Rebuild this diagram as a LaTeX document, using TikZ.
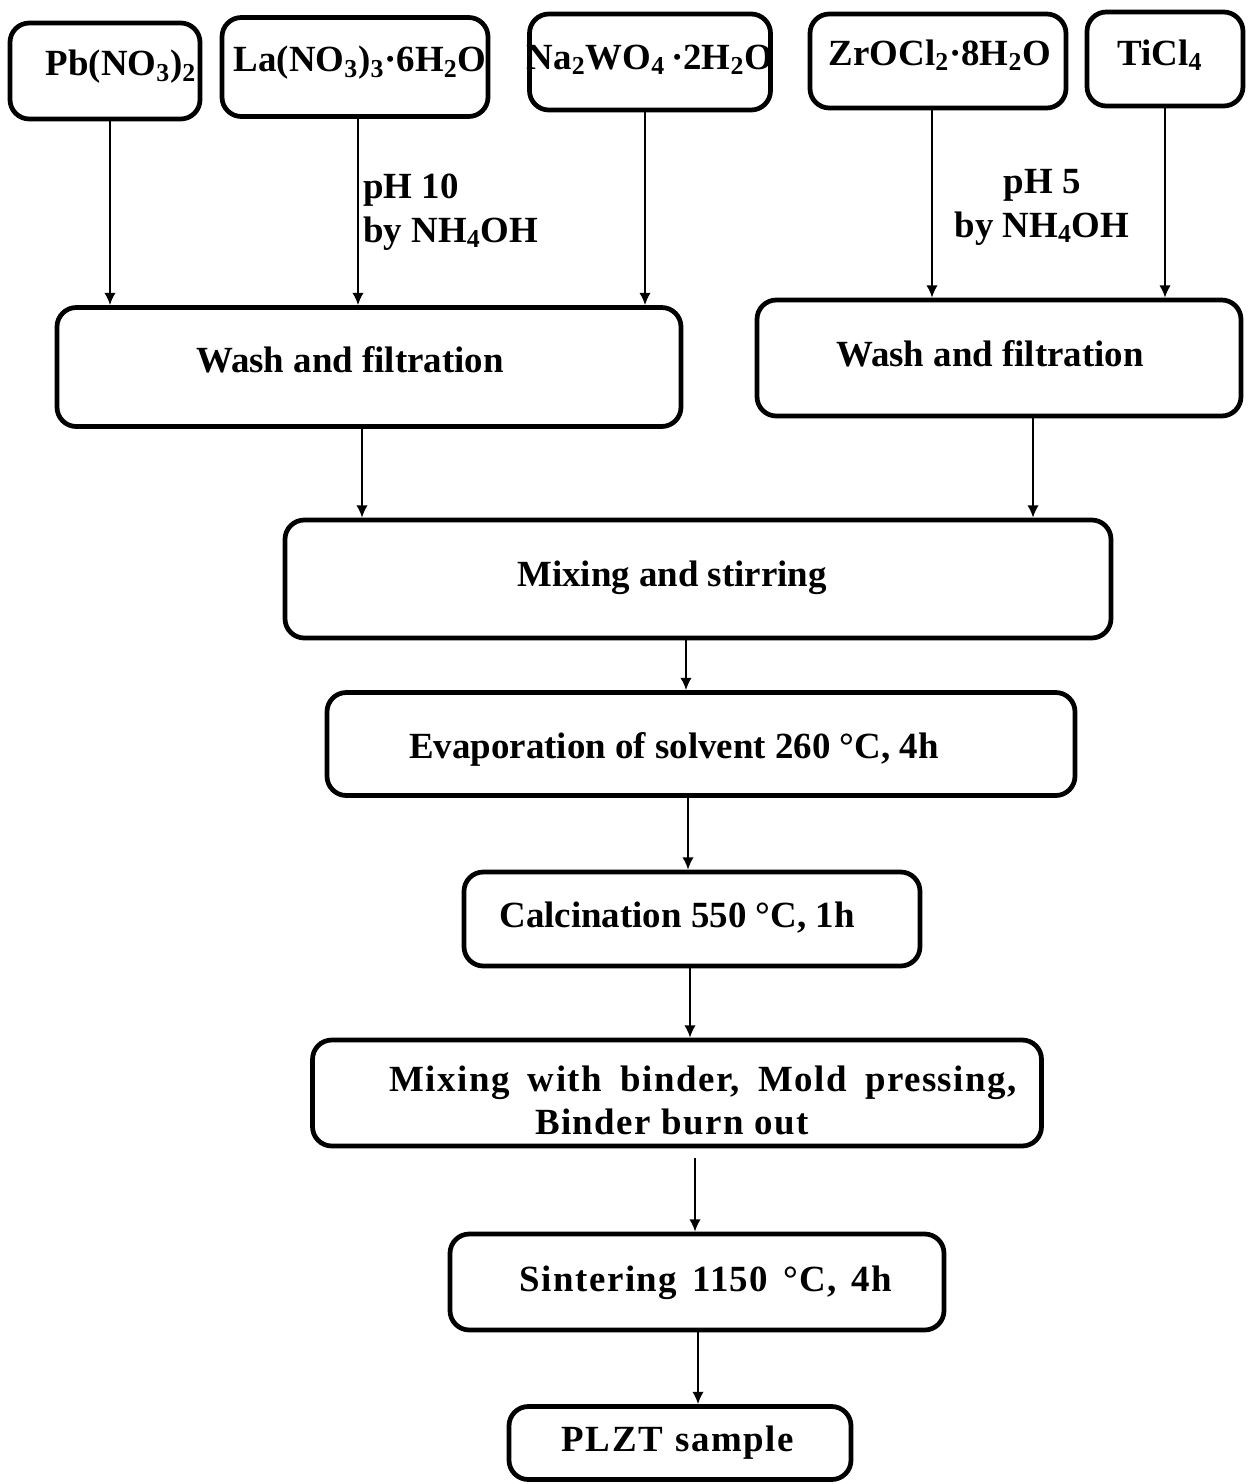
\documentclass[tikz,border=0pt]{standalone}
\usepackage{fontspec}
\setmainfont{Liberation Serif}
\usetikzlibrary{arrows.meta,calc}
\tikzset{
  box/.style={draw, line width=2.7pt, rounded corners=11pt, inner sep=0pt},
  txt/.style={inner sep=0pt, font=\fontsize{21}{25}\selectfont\bfseries},
  arr/.style={line width=1.1pt, -{Latex[length=7pt,width=6.5pt]}}
}
\begin{document}
\begin{tikzpicture}[x=0.02cm,y=-0.02cm]
\useasboundingbox (0,0) rectangle (1249,1484);
% boxes
\node[box, minimum width={190*0.02cm}, minimum height={96*0.02cm}] (pb) at (105,71) {};
\node[box, minimum width={266*0.02cm}, minimum height={99*0.02cm}] (la) at (355,67) {};
\node[box, minimum width={241*0.02cm}, minimum height={96*0.02cm}] (na) at (650,62) {};
\node[box, minimum width={256*0.02cm}, minimum height={94*0.02cm}] (zr) at (938,61) {};
\node[box, minimum width={156*0.02cm}, minimum height={94*0.02cm}] (ti) at (1165,59) {};
\node[box, minimum width={624*0.02cm}, minimum height={119*0.02cm}] (wl) at (369,367) {};
\node[box, minimum width={484*0.02cm}, minimum height={116*0.02cm}] (wr) at (999,358) {};
\node[box, minimum width={826*0.02cm}, minimum height={118*0.02cm}] (mix) at (698,579) {};
\node[box, minimum width={748*0.02cm}, minimum height={103*0.02cm}] (ev) at (701,744) {};
\node[box, minimum width={456*0.02cm}, minimum height={94*0.02cm}] (ca) at (692,919) {};
\node[box, minimum width={729*0.02cm}, minimum height={106*0.02cm}] (bi) at (677,1093) {};
\node[box, minimum width={494*0.02cm}, minimum height={96*0.02cm}] (si) at (697,1282) {};
\node[box, minimum width={342*0.02cm}, minimum height={73*0.02cm}] (pl) at (680,1443) {};
% texts
\node[txt] (tpb) at (121,67) {Pb(NO\textsubscript{3})\textsubscript{2}};
\node[txt] (tla) at (360,63) {La(NO\textsubscript{3})\textsubscript{3}·6H\textsubscript{2}O};
\node[txt] (tna) at (650,60) {Na\textsubscript{2}WO\textsubscript{4}\,·2H\textsubscript{2}O};
\node[txt] (tzr) at (940,55) {ZrOCl\textsubscript{2}·8H\textsubscript{2}O};
\node[txt] (tti) at (1160,55) {TiCl\textsubscript{4}};
\node[txt, anchor=west, align=left] (ph10) at (363,212) {pH 10\\by NH\textsubscript{4}OH};
\node[txt, align=center] (ph5) at (1042,207) {pH 5\\by NH\textsubscript{4}OH};
\node[txt] (twl) at (350,360) {Wash and filtration};
\node[txt] (twr) at (990,354) {Wash and filtration};
\node[txt] (tmix) at (672,578) {Mixing and stirring};
\node[txt] (tev) at (674,749) {Evaporation of solvent 260 °C, 4h};
\node[txt] (tca) at (677,918) {Calcination 550 °C, 1h};
\node[txt] (tbi1) at (703,1083) {\addfontfeature{LetterSpace=4}\spaceskip=10.5pt Mixing with binder, Mold pressing,};
\node[txt] (tbi2) at (672,1122) {\addfontfeature{LetterSpace=4}\spaceskip=6pt Binder burn out};
\node[txt] (tsi) at (706,1283) {\addfontfeature{LetterSpace=4}\spaceskip=8.5pt Sintering 1150 °C, 4h};
\node[txt] (tpl) at (678,1443) {\addfontfeature{LetterSpace=4}\spaceskip=7.5pt PLZT sample};
% arrows
\draw[arr] (pb.south) ++(5,0) coordinate (a1) -- (a1 |- wl.north);
\draw[arr] (la.south) ++(3,0) coordinate (a2) -- (a2 |- wl.north);
\draw[arr] (na.south) ++(-5,0) coordinate (a3) -- (a3 |- wl.north);
\draw[arr] (zr.south) ++(-6,0) coordinate (a4) -- (a4 |- wr.north);
\draw[arr] (ti.south) coordinate (a5) -- (a5 |- wr.north);
\draw[arr] (wl.south) ++(-7,0) coordinate (a6) -- (a6 |- mix.north);
\draw[arr] (wr.south) ++(34,0) coordinate (a7) -- (a7 |- mix.north);
\draw[arr] (mix.south) ++(-12,0) coordinate (a8) -- (a8 |- ev.north);
\draw[arr] (ev.south) ++(-13,0) coordinate (a9) -- (a9 |- ca.north);
\draw[arr] (ca.south) ++(-2,0) coordinate (a10) -- (a10 |- bi.north);
\draw[arr] (bi.south) ++(18,10) coordinate (a11) -- (a11 |- si.north);
\draw[arr] (si.south) ++(1,0) coordinate (a12) -- (a12 |- pl.north);
\end{tikzpicture}
\end{document}
